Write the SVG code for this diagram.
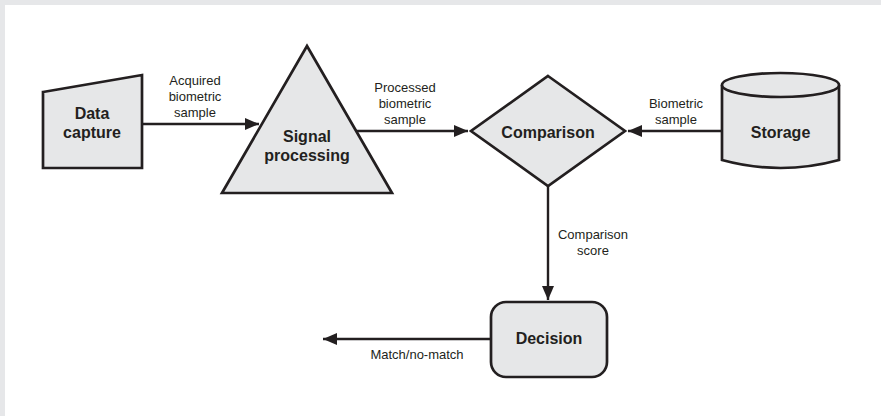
<svg xmlns="http://www.w3.org/2000/svg" width="881" height="416" viewBox="0 0 881 416">
  <style>
    .shape { fill: #e6e7e8; stroke: #231f20; stroke-width: 2.7; stroke-linejoin: miter; }
    .edge { fill: none; stroke: #231f20; stroke-width: 2.4; }
    .title { font-family: "Liberation Sans", Arial, sans-serif; font-size: 16px; font-weight: bold; fill: #231f20; text-anchor: middle; }
    .label { font-family: "Liberation Sans", Arial, sans-serif; font-size: 13px; fill: #231f20; text-anchor: middle; }
  </style>
  <defs>
    <marker id="arrow" viewBox="0 0 14 12" refX="14" refY="6" markerWidth="14" markerHeight="12" markerUnits="userSpaceOnUse" orient="auto">
      <path d="M0,0 L14,6 L0,12 Z" fill="#231f20"/>
    </marker>
  </defs>

  <!-- page frame -->
  <rect x="0" y="0" width="881" height="416" fill="#e6e7e9"/>
  <rect x="5" y="5" width="876" height="411" fill="#ffffff"/>

  <!-- connectors -->
  <g id="connectors">
    <line class="edge" x1="142" y1="124" x2="259" y2="124" marker-end="url(#arrow)"/>
    <line class="edge" x1="356" y1="131" x2="468" y2="131" marker-end="url(#arrow)"/>
    <line class="edge" x1="722" y1="131" x2="628" y2="131" marker-end="url(#arrow)"/>
    <line class="edge" x1="548" y1="186" x2="548" y2="300" marker-end="url(#arrow)"/>
    <line class="edge" x1="491" y1="339" x2="323" y2="339" marker-end="url(#arrow)"/>

    <text class="label" x="195" y="85">Acquired</text>
    <text class="label" x="195" y="101">biometric</text>
    <text class="label" x="195" y="117">sample</text>

    <text class="label" x="405" y="92">Processed</text>
    <text class="label" x="405" y="108">biometric</text>
    <text class="label" x="405" y="124">sample</text>

    <text class="label" x="676" y="108">Biometric</text>
    <text class="label" x="676" y="124">sample</text>

    <text class="label" x="593" y="239">Comparison</text>
    <text class="label" x="593" y="255">score</text>

    <text class="label" x="417" y="359">Match/no-match</text>
  </g>

  <!-- nodes -->
  <g id="data-capture">
    <polygon class="shape" points="43,92 142,75 142,168 43,168"/>
    <text class="title" x="92" y="119">Data</text>
    <text class="title" x="92" y="138">capture</text>
  </g>

  <g id="signal-processing">
    <polygon class="shape" points="307,46 222,193 392,193"/>
    <text class="title" x="307" y="142">Signal</text>
    <text class="title" x="307" y="161">processing</text>
  </g>

  <g id="comparison">
    <polygon class="shape" points="548,76 625,131 548,186 471,131"/>
    <text class="title" x="548" y="138">Comparison</text>
  </g>

  <g id="storage">
    <path class="shape" d="M722,85 L722,160 Q780.5,176 839,160 L839,85"/>
    <ellipse class="shape" cx="780.5" cy="85" rx="58.5" ry="12"/>
    <text class="title" x="780.5" y="138">Storage</text>
  </g>

  <g id="decision">
    <rect class="shape" x="491" y="302" width="116" height="75" rx="15" ry="15"/>
    <text class="title" x="549" y="344">Decision</text>
  </g>
</svg>
